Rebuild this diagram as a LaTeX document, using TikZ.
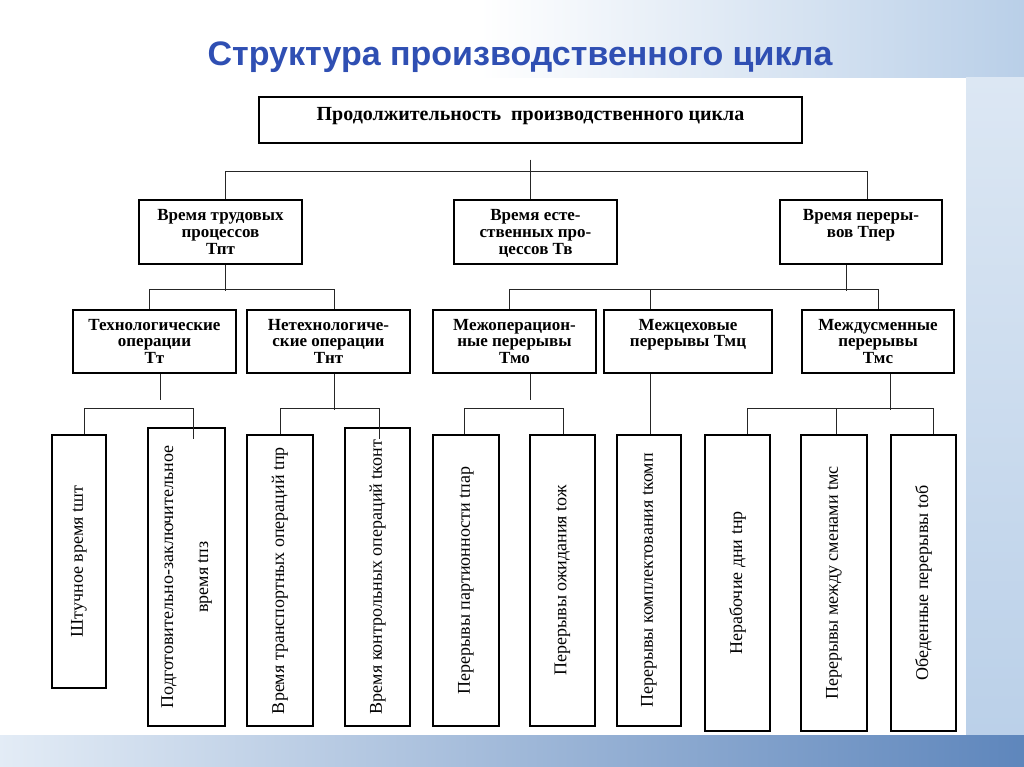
\documentclass[tikz,border=0pt]{standalone}
\usepackage{fontspec}
\setmainfont{Liberation Serif}
\newfontfamily\titlefont{Liberation Sans}
\definecolor{titleblue}{HTML}{2F4FB3}
\definecolor{bgblue}{HTML}{B9CFE8}
\definecolor{bgdark}{HTML}{5E86BC}
\newcommand{\hbx}[4]{\parbox[c][#2][t]{#1}{\centering\rule{0pt}{#3}#4}}
\begin{document}
\begin{tikzpicture}[x=1pt,y=-1pt,
  box/.style={draw=black,line width=1.3pt,fill=white,inner sep=0pt},
  conn/.style={draw=black!85,line width=1pt},
  lvl/.style={font=\bfseries\fontsize{17}{16.8}\selectfont},
  vbox/.style={box,font=\fontsize{18}{20}\selectfont},
]
\useasboundingbox (0,0) rectangle (1024,767);
% background
\fill[white] (0,0) rectangle (1024,767);
\shade[left color=white,right color=bgblue] (480,0) rectangle (1024,80);
\shade[top color=bgblue!50,bottom color=bgblue] (966,78) rectangle (1024,767);
\shade[left color=bgblue!40,right color=bgdark] (0,735) rectangle (1024,767);
\fill[white] (35,78) rectangle (966,735);

% title
\node[font=\titlefont\bfseries\fontsize{34}{38}\selectfont,text=titleblue,anchor=base] (title) at (520,66) {Структура производственного цикла};

% level 1
\node[box,font=\bfseries\fontsize{20}{22}\selectfont] (T) at (530.5,120) {\hbx{543pt}{46pt}{24pt}{Продолжительность\ \ производственного цикла}};

% level 2
\node[box,lvl] (A) at (220.5,232) {\hbx{163pt}{64pt}{21pt}{Время трудовых\\процессов\\Тпт}};
\node[box,lvl] (B) at (535.5,232) {\hbx{163pt}{64pt}{21pt}{Время есте-\\ственных про-\\цессов Тв}};
\node[box,lvl] (C) at (861,232) {\hbx{162pt}{64pt}{21pt}{Время переры-\\вов Тпер}};

% level 3
\node[box,lvl] (D) at (154.5,341.5) {\hbx{163pt}{63pt}{20pt}{Технологические\\операции\\Тт}};
\node[box,lvl] (E) at (328.5,341.5) {\hbx{163pt}{63pt}{20pt}{Нетехнологиче-\\ские операции\\Тнт}};
\node[box,lvl] (F) at (514.5,341.5) {\hbx{163pt}{63pt}{20pt}{Межоперацион-\\ные перерывы\\Тмо}};
\node[box,lvl] (G) at (688,341.5) {\hbx{168pt}{63pt}{20pt}{Межцеховые\\перерывы Тмц}};
\node[box,lvl] (H) at (878,341.5) {\hbx{152pt}{63pt}{20pt}{Междусменные\\перерывы\\Тмс}};

% level 4
\node[vbox,minimum width=54pt,minimum height=253pt] (V1) at (79,561.5) {\rotatebox{90}{Штучное время tшт}};
\node[vbox,minimum width=77pt,minimum height=298pt] (V2) at (186.5,577) {\rotatebox{90}{\begin{tabular}{@{}c@{}}Подготовительно-заключительное\\[15pt]время tпз\end{tabular}}};
\node[vbox,minimum width=66pt,minimum height=291pt] (V3) at (280,580.5) {\rotatebox{90}{Время транспортных операций tпр}};
\node[vbox,minimum width=65pt,minimum height=298pt] (V4) at (377.5,577) {\rotatebox{90}{Время контрольных операций tконт}};
\node[vbox,minimum width=66pt,minimum height=291pt] (V5) at (466,580.5) {\rotatebox{90}{Перерывы партионности tпар}};
\node[vbox,minimum width=65pt,minimum height=291pt] (V6) at (562.5,580.5) {\rotatebox{90}{Перерывы ожидания tож}};
\node[vbox,minimum width=64pt,minimum height=291pt] (V7) at (649,580.5) {\rotatebox{90}{Перерывы комплектования tкомп}};
\node[vbox,minimum width=65pt,minimum height=296pt] (V8) at (737.5,583) {\rotatebox{90}{Нерабочие дни tнр}};
\node[vbox,minimum width=66pt,minimum height=296pt] (V9) at (834,583) {\rotatebox{90}{Перерывы между сменами tмс}};
\node[vbox,minimum width=65pt,minimum height=296pt] (V10) at (923.5,583) {\rotatebox{90}{Обеденные перерывы tоб}};

% connectors level 1 -> 2
\draw[conn] (T.south) ++(0,16) -- (B.north -| T.south);
\draw[conn] ([xshift=4.5pt]A.north) -- ++(0,-28) -| ([xshift=6pt]C.north);

% level 2 -> 3
\draw[conn] ([xshift=4.5pt]A.south) -- ++(0,26);
\draw[conn] ([xshift=-5.5pt]D.north) -- ++(0,-20) -| ([xshift=5.5pt]E.north);
\draw[conn] ([xshift=-15pt]C.south) -- ++(0,26);
\draw[conn] ([xshift=-5.5pt]F.north) -- ++(0,-20) -| (H.north);
\draw[conn] ([xshift=-38pt]G.north) -- ++(0,-20);

% level 3 -> 4
\draw[conn] ([xshift=5.5pt]D.south) -- ++(0,26);
\draw[conn] ([xshift=5pt]V1.north) -- ++(0,-26) -| ([xshift=6.5pt,yshift=-12pt]V2.north);
\draw[conn] ([xshift=5.5pt]E.south) -- ++(0,36);
\draw[conn] (V3.north) -- ++(0,-26) -| ([xshift=1.5pt,yshift=-12pt]V4.north);
\draw[conn] ([xshift=15.5pt]F.south) -- ++(0,26);
\draw[conn] ([xshift=-2pt]V5.north) -- ++(0,-26) -| ([xshift=0.5pt]V6.north);
\draw[conn] ([xshift=-38pt]G.south) -- ([xshift=1pt]V7.north);
\draw[conn] ([xshift=12pt]H.south) -- ++(0,36);
\draw[conn] ([xshift=9.5pt]V8.north) -- ++(0,-26) -| ([xshift=9.5pt]V10.north);
\draw[conn] ([xshift=2pt]V9.north) -- ++(0,-26);
\end{tikzpicture}
\end{document}
